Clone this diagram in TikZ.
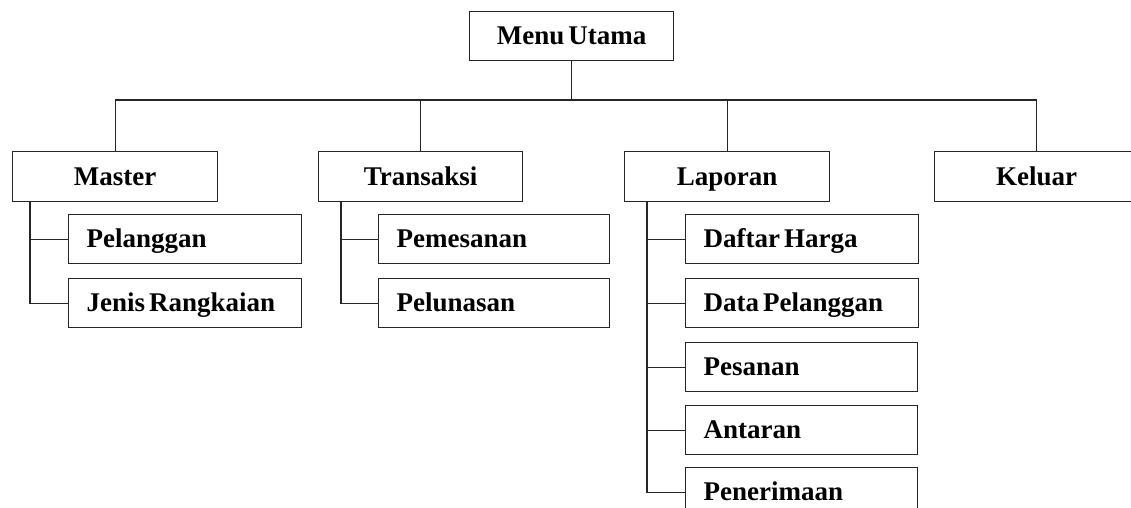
\documentclass[tikz,border=0pt]{standalone}
\usepackage{fontspec}
\setmainfont{Liberation Serif}
\protected\def\boxfont{\fontsize{27}{30}\selectfont\bfseries\spaceskip=4pt plus 1pt\relax}
\newcommand\subtext[2][197pt]{\hbox to #1{#2\hfil}}
\begin{document}
\begin{tikzpicture}[x=1pt,y=-1pt,
  line width=1.3pt,
  every node/.style={draw=black!85, line width=1.3pt, font=\boxfont, inner sep=0pt, text height=17pt, text depth=0pt},
  topbox/.style={minimum width=205pt, minimum height=50pt, align=center, anchor=north west},
  subbox/.style={inner xsep=18pt, minimum height=49pt, anchor=north west},
  conn/.style={draw=black!85, line width=1.3pt}]
\useasboundingbox (0,0) rectangle (1131,508);
\clip (0,0) rectangle (1131,508);
\fill[white] (0,0) rectangle (1131,508);
% top level
\node[topbox, minimum width=204pt, minimum height=49pt] (menu) at (469,11) {Menu Utama};
\node[topbox] (master) at (12,151) {Master};
\node[topbox, minimum width=204pt] (transaksi) at (318,151) {Transaksi};
\node[topbox] (laporan) at (624,151) {Laporan};
\node[topbox, minimum width=204pt] (keluar) at (934,151) {Keluar};
% sub items
\node[subbox] (pelanggan) at (68,214) {\subtext{Pelanggan}};
\node[subbox] (jenis) at (68,278) {\subtext{Jenis Rangkaian}};
\node[subbox] (pemesanan) at (378,214) {\subtext[195pt]{Pemesanan}};
\node[subbox] (pelunasan) at (378,278) {\subtext[195pt]{Pelunasan}};
\node[subbox] (daftar) at (685,214) {\subtext{Daftar Harga}};
\node[subbox] (data) at (685,278) {\subtext{Data Pelanggan}};
\node[subbox] (pesanan) at (685,342) {\subtext[196pt]{Pesanan}};
\node[subbox] (antaran) at (685,405) {\subtext[196pt]{Antaran}};
\node[subbox] (penerimaan) at (685,467) {\subtext[196pt]{Penerimaan}};
% bus
\coordinate (busy) at (0,100);
\draw[conn] (menu.south) -- (menu.south |- busy);
\draw[conn] (master.north) -- (master.north |- busy) -- (keluar.north |- busy) -- (keluar.north);
\draw[conn] (transaksi.north) -- (transaksi.north |- busy);
\draw[conn] (laporan.north) -- (laporan.north |- busy);
% trunks
\coordinate (mt) at ([xshift=18pt]master.south west);
\coordinate (tt) at ([xshift=23pt]transaksi.south west);
\coordinate (lt) at ([xshift=23pt]laporan.south west);
\draw[conn] (mt) |- (jenis.west);
\draw[conn] (mt |- pelanggan.west) -- (pelanggan.west);
\draw[conn] (tt) |- (pelunasan.west);
\draw[conn] (tt |- pemesanan.west) -- (pemesanan.west);
\draw[conn] (lt) |- (penerimaan.west);
\draw[conn] (lt |- daftar.west) -- (daftar.west);
\draw[conn] (lt |- data.west) -- (data.west);
\draw[conn] (lt |- pesanan.west) -- (pesanan.west);
\draw[conn] (lt |- antaran.west) -- (antaran.west);
\end{tikzpicture}
\end{document}
